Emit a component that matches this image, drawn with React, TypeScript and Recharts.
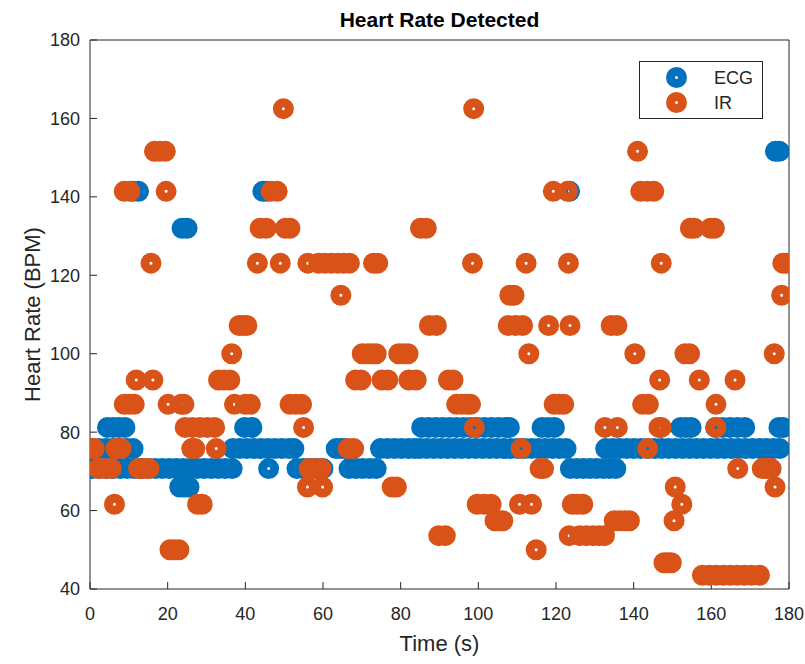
import React from 'react'
import { ScatterChart, Scatter, XAxis, YAxis, Legend, Label } from 'recharts'

const timeTicks = [0, 20, 40, 60, 80, 100, 120, 140, 160, 180]
const bpmTicks = [40, 60, 80, 100, 120, 140, 160, 180]

// detected heart rate, grouped by the (quantised) BPM level, times in seconds
const ecgRuns = [
  { bpm: 151.6, t: [176.5, 177.5] },
  { bpm: 141.4, t: [11.0, 12.5, 44.5, 45.5, 123.5] },
  { bpm: 132.0, t: [23.7, 25.0] },
  { bpm: 81.2, t: [4.5, 6.0, 7.5, 9.0, 39.8, 41.7, 85.4, 87.2, 89.0, 90.8, 92.6, 94.4, 96.2, 98.0, 99.8, 101.6, 103.4, 105.2, 107.0, 108.0, 116.4, 118.0, 119.6, 152.1, 153.5, 154.8, 161.1, 162.9, 164.8, 166.7, 168.6, 177.4, 178.4] },
  { bpm: 75.8, t: [0.5, 2.3, 4.1, 5.9, 7.7, 9.5, 11.1, 36.8, 38.6, 40.4, 42.2, 44.0, 45.8, 47.6, 49.4, 51.2, 52.5, 63.4, 64.5, 65.5, 74.8, 76.6, 78.4, 80.2, 82.0, 83.6, 84.9, 86.7, 88.5, 90.3, 92.1, 93.9, 95.7, 97.5, 99.3, 101.1, 102.9, 104.7, 106.5, 108.3, 110.1, 111.9, 113.7, 115.5, 117.3, 119.1, 120.9, 122.6, 132.8, 134.6, 136.4, 138.2, 140.0, 141.8, 143.6, 145.4, 147.2, 149.0, 150.8, 152.6, 154.4, 156.2, 158.0, 159.8, 161.6, 163.4, 165.2, 167.0, 168.8, 170.6, 172.4, 174.2, 176.0, 177.6] },
  { bpm: 70.7, t: [0.6, 2.4, 4.2, 6.0, 7.8, 9.6, 11.4, 13.2, 15.0, 16.8, 18.6, 20.4, 22.2, 24.0, 25.8, 27.6, 29.4, 31.2, 33.0, 34.8, 36.6, 46.0, 53.3, 55.0, 56.6, 58.3, 60.0, 66.7, 68.5, 70.2, 72.0, 73.7, 123.7, 125.4, 127.1, 128.8, 130.5, 132.2, 133.8, 135.4] },
  { bpm: 66.0, t: [23.1, 24.3, 25.5] },
]

const irRuns = [
  { bpm: 162.5, t: [49.8, 98.8] },
  { bpm: 151.6, t: [16.6, 18.0, 19.4, 141.0] },
  { bpm: 141.4, t: [8.8, 10.3, 19.6, 46.6, 48.2, 119.3, 123.0, 141.8, 143.5, 145.2] },
  { bpm: 132.0, t: [43.8, 45.4, 50.3, 51.5, 85.1, 86.6, 154.6, 155.6, 159.8, 160.8] },
  { bpm: 123.1, t: [15.7, 43.1, 49.0, 56.1, 58.9, 60.5, 62.1, 63.8, 65.3, 66.8, 73.0, 74.1, 98.5, 112.3, 123.2, 147.1, 178.4, 179.3] },
  { bpm: 114.9, t: [64.6, 108.1, 109.2, 178.1] },
  { bpm: 107.2, t: [38.4, 39.4, 40.4, 87.4, 89.2, 107.7, 109.6, 111.4, 118.1, 123.6, 134.2, 135.7] },
  { bpm: 100.0, t: [36.5, 70.1, 71.5, 72.6, 73.7, 79.5, 80.7, 81.9, 113.0, 140.3, 153.2, 154.4, 176.2] },
  { bpm: 93.3, t: [11.9, 16.2, 33.1, 34.5, 36.0, 68.4, 69.8, 75.2, 76.7, 82.1, 84.0, 92.3, 93.5, 146.7, 156.9, 166.1] },
  { bpm: 87.1, t: [8.8, 10.1, 11.4, 20.1, 23.5, 24.2, 37.2, 40.0, 41.3, 51.5, 53.0, 54.5, 94.4, 95.8, 97.1, 98.0, 119.5, 120.8, 122.0, 142.3, 143.8, 161.2] },
  { bpm: 81.2, t: [24.5, 26.4, 28.3, 30.2, 32.1, 55.0, 99.0, 132.6, 135.8, 146.5, 147.1, 161.2] },
  { bpm: 75.8, t: [0.0, 1.1, 6.7, 8.0, 26.2, 27.0, 32.5, 66.5, 67.9, 111.0, 143.6] },
  { bpm: 70.7, t: [2.2, 3.9, 5.5, 12.5, 13.8, 15.2, 56.4, 58.0, 59.5, 115.9, 116.8, 166.8, 173.1, 174.3, 175.4] },
  { bpm: 66.0, t: [56.0, 59.9, 77.8, 78.9, 150.7, 176.4] },
  { bpm: 61.6, t: [6.3, 27.7, 28.9, 99.7, 101.5, 103.3, 110.6, 113.7, 124.2, 125.5, 126.9, 152.4] },
  { bpm: 57.4, t: [104.3, 105.3, 106.3, 135.0, 136.4, 137.7, 138.9, 150.4] },
  { bpm: 53.6, t: [89.8, 91.5, 123.4, 126.1, 127.8, 129.5, 131.1, 132.5] },
  { bpm: 50.0, t: [20.6, 21.7, 22.9, 114.9] },
  { bpm: 46.7, t: [147.8, 148.8, 149.7] },
  { bpm: 43.5, t: [157.7, 159.5, 161.3, 163.1, 164.9, 166.7, 168.5, 170.3, 172.4] },
]

const toPoints = (runs: { bpm: number; t: number[] }[]) =>
  runs
    .flatMap((r) => r.t.map((time) => ({ time, bpm: r.bpm })))
    .sort((a, b) => a.time - b.time)

const ecgData = toPoints(ecgRuns)
const irData = toPoints(irRuns)

const ECG_COLOR = '#0072BD'
const IR_COLOR = '#D95319'
const AXIS = '#262626'
const FONT = '"Liberation Sans", Arial, Helvetica, sans-serif'

// matlab style 'o' marker with a thick line: ring with a tiny hole
const ring = (color: string) => (props: any) => (
  <circle cx={props.cx} cy={props.cy} r={6} fill="none" stroke={color} strokeWidth={9} />
)

const LegendBox = () => (
  <svg width={124} height={58} style={{ display: 'block' }}>
    <rect x={0.5} y={0.5} width={123} height={57} fill="#fff" stroke={AXIS} strokeWidth={1} />
    <circle cx={37.5} cy={16.5} r={6} fill="none" stroke={ECG_COLOR} strokeWidth={9} />
    <text x={75} y={16.5} dy="0.36em" fontSize={18} fill={AXIS} fontFamily={FONT}>ECG</text>
    <circle cx={37.5} cy={41.5} r={6} fill="none" stroke={IR_COLOR} strokeWidth={9} />
    <text x={75} y={41.5} dy="0.36em" fontSize={18} fill={AXIS} fontFamily={FONT}>IR</text>
  </svg>
)

const tickStyle = { fontSize: 18, fill: AXIS, fontFamily: FONT }

export default function App() {
  return (
    <div style={{ position: 'absolute', left: 0, top: 0, background: '#fff' }}>
      <ScatterChart width={805} height={664} margin={{ top: 39, right: 15, bottom: 45, left: 30 }}>
        <XAxis
          xAxisId="bottom"
          type="number"
          dataKey="time"
          domain={[0, 180]}
          ticks={timeTicks}
          allowDataOverflow
          height={30}
          tickSize={-7}
          tickMargin={25}
          tick={tickStyle}
          stroke={AXIS}
        >
          <Label
            content={() => (
              <text x={439.5} y={651} textAnchor="middle" fontSize={22} fill={AXIS} fontFamily={FONT}>
                Time (s)
              </text>
            )}
          />
        </XAxis>
        <XAxis
          xAxisId="top"
          orientation="top"
          type="number"
          dataKey="time"
          domain={[0, 180]}
          ticks={timeTicks}
          allowDataOverflow
          height={1}
          tickSize={-7}
          tick={false}
          stroke={AXIS}
        >
          <Label
            content={() => (
              <text x={439.5} y={27} textAnchor="middle" fontSize={21} fontWeight="bold" fill="#000" fontFamily={FONT}>
                Heart Rate Detected
              </text>
            )}
          />
        </XAxis>
        <YAxis
          yAxisId="left"
          type="number"
          dataKey="bpm"
          domain={[40, 180]}
          ticks={bpmTicks}
          allowDataOverflow
          width={60}
          tickSize={-7}
          tickMargin={17}
          tick={tickStyle}
          stroke={AXIS}
        >
          <Label
            content={() => (
              <text
                x={0}
                y={0}
                transform="translate(40, 314.5) rotate(-90)"
                textAnchor="middle"
                fontSize={22}
                fill={AXIS}
                fontFamily={FONT}
              >
                Heart Rate (BPM)
              </text>
            )}
          />
        </YAxis>
        <YAxis
          yAxisId="right"
          orientation="right"
          type="number"
          dataKey="bpm"
          domain={[40, 180]}
          ticks={bpmTicks}
          allowDataOverflow
          width={1}
          tickSize={-7}
          tick={false}
          stroke={AXIS}
        />
        <Legend
          layout="horizontal"
          verticalAlign="middle"
          align="center"
          wrapperStyle={{ position: 'absolute', left: 639, top: 61, width: 124, height: 58 }}
          content={() => <LegendBox />}
        />
        {/* empty series so the mirrored box axes get drawn */}
        <Scatter
          data={[]}
          xAxisId="top"
          yAxisId="right"
          legendType="none"
          isAnimationActive={false}
        />
        <Scatter
          name="ECG"
          data={ecgData}
          xAxisId="bottom"
          yAxisId="left"
          fill={ECG_COLOR}
          shape={ring(ECG_COLOR)}
          isAnimationActive={false}
        />
        <Scatter
          name="IR"
          data={irData}
          xAxisId="bottom"
          yAxisId="left"
          fill={IR_COLOR}
          shape={ring(IR_COLOR)}
          isAnimationActive={false}
        />
      </ScatterChart>
    </div>
  )
}
